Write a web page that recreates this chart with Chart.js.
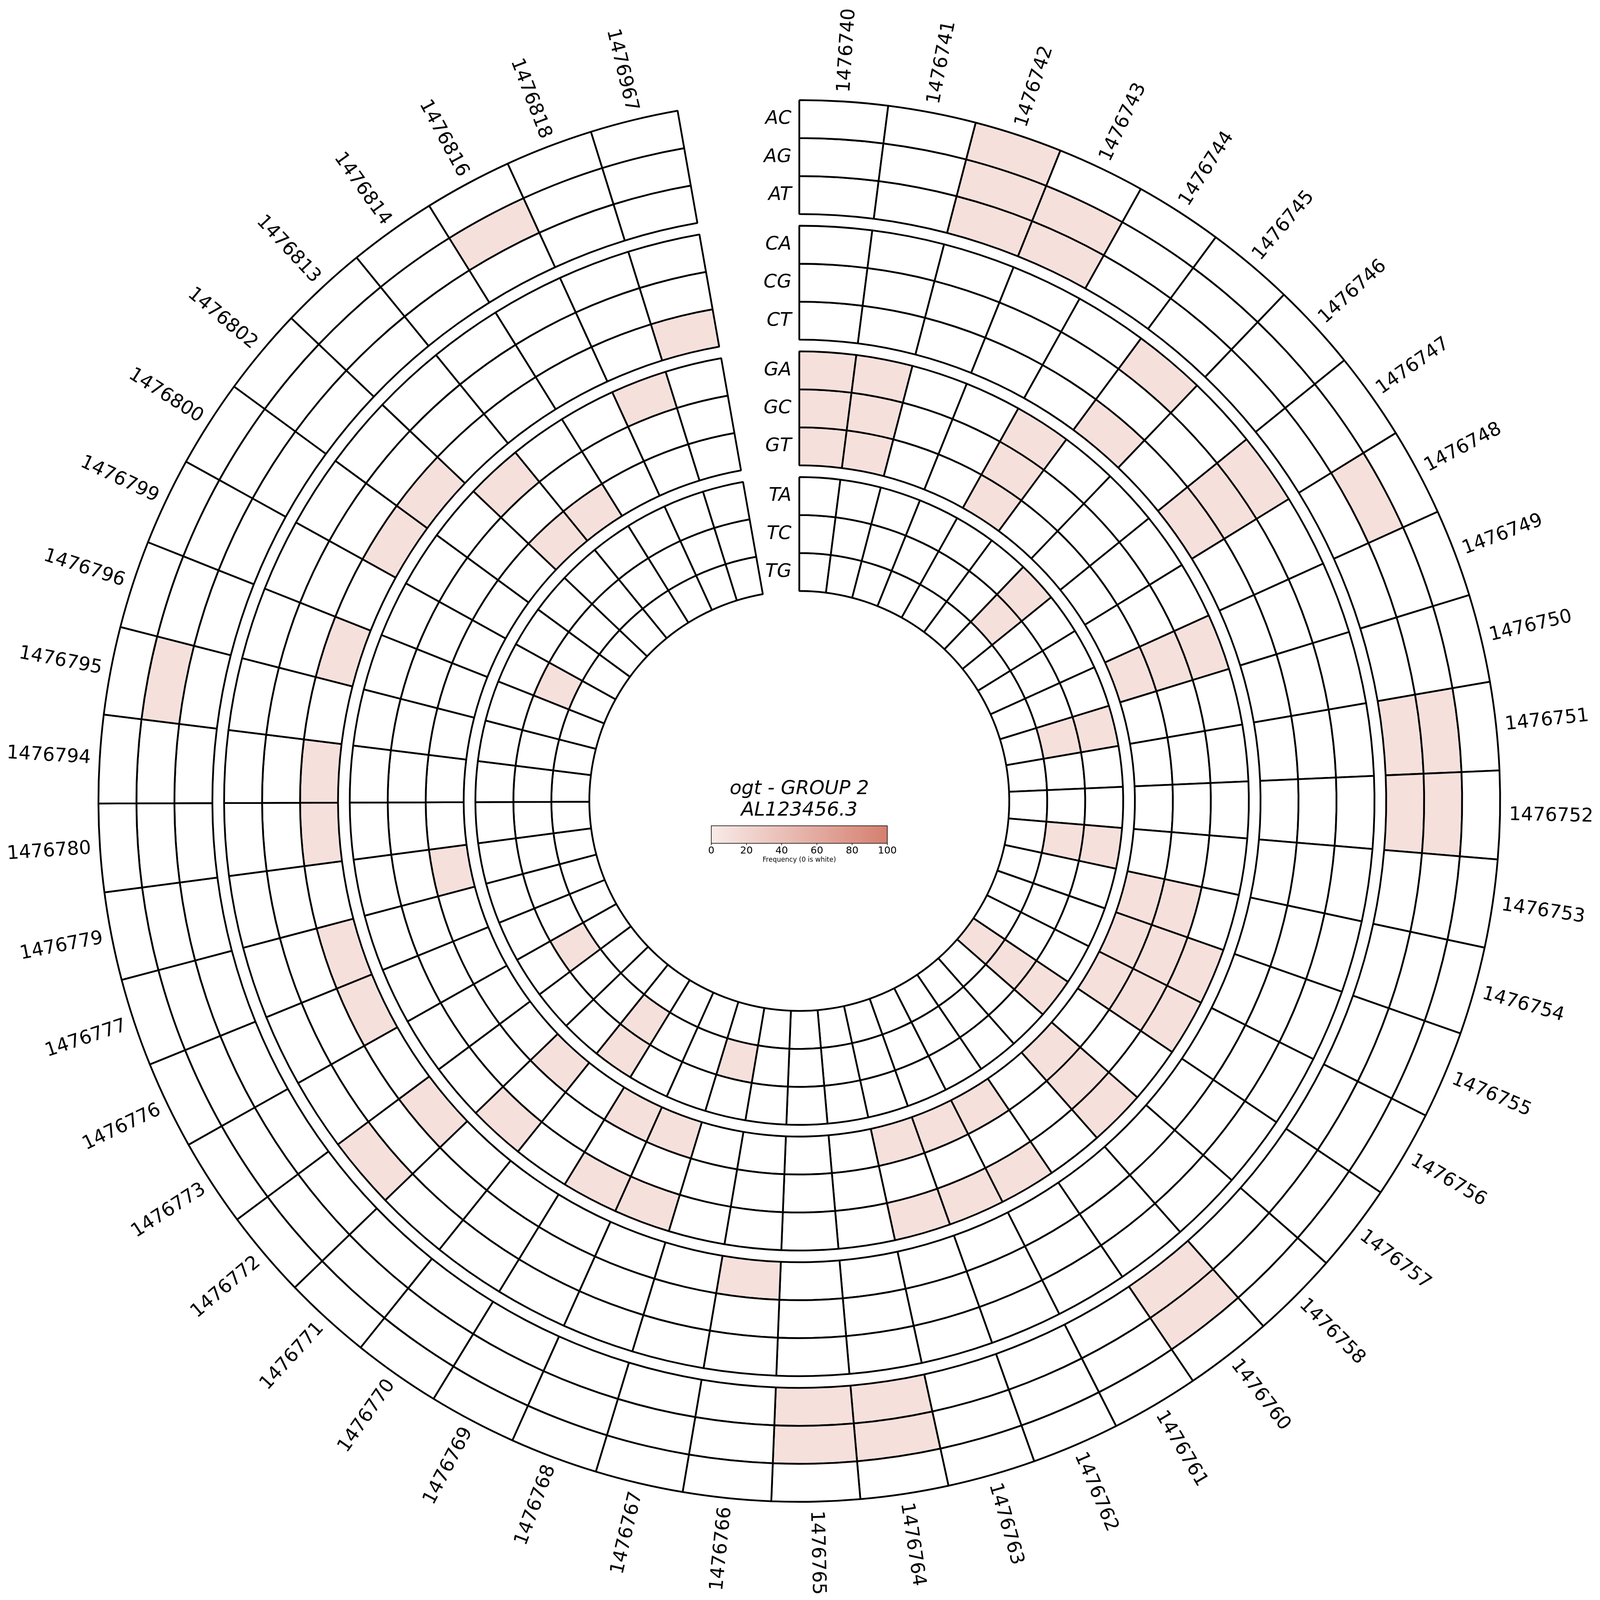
<!DOCTYPE html>
<html>
<head>
<meta charset="utf-8">
<script src="https://cdn.jsdelivr.net/npm/chart.js@4.4.1/dist/chart.umd.min.js"></script>
<style>
html,body{margin:0;padding:0;background:#ffffff;overflow:hidden;}
canvas{display:block;}
</style>
</head>
<body>
<canvas id="c"></canvas>
<script>
// ---- categories (genomic positions, clockwise from top) ----
const positions = ['1476740','1476741','1476742','1476743','1476744','1476745','1476746','1476747','1476748','1476749',
  '1476750','1476751','1476752','1476753','1476754','1476755','1476756','1476757','1476758','1476760',
  '1476761','1476762','1476763','1476764','1476765','1476766','1476767','1476768','1476769','1476770',
  '1476771','1476772','1476773','1476776','1476777','1476779','1476780','1476794','1476795','1476796',
  '1476799','1476800','1476802','1476813','1476814','1476816','1476818','1476967'];

// ---- ring names (outer -> inner) ----
const ringNames = ['AC','AG','AT','CA','CG','CT','GA','GC','GT','TA','TC','TG'];

// ---- frequency values per ring (0 = white) ----
const AC = [0,0,10,0,0,0,0,0,0,0, 0,0,0,0,0,0,0,0,0,0, 0,0,0,0,0,0,0,0,0,0, 0,0,0,0,0,0,0,0,0,0, 0,0,0,0,0,0,0,0];
const AG = [0,0,10,10,0,0,0,0,10,0, 0,10,10,0,0,0,0,0,0,10, 0,0,0,10,10,0,0,0,0,0, 0,0,0,0,0,0,0,0,10,0, 0,0,0,0,0,10,0,0];
const AT = [0,0,10,10,0,0,0,0,0,0, 0,10,10,0,0,0,0,0,0,10, 0,0,0,10,10,0,0,0,0,0, 0,0,0,0,0,0,0,0,0,0, 0,0,0,0,0,0,0,0];
const CA = [0,0,0,0,0,10,0,10,0,0, 0,0,0,0,0,0,0,0,0,0, 0,0,0,0,0,0,0,0,0,0, 0,10,0,0,0,0,0,0,0,0, 0,0,0,0,0,0,0,0];
const CG = [0,0,0,0,0,0,0,10,0,0, 0,0,0,0,0,0,0,0,0,0, 0,0,0,0,0,0,0,0,0,0, 0,0,0,0,0,0,0,0,0,0, 0,0,0,0,0,0,0,0];
const CT = [0,0,0,0,0,10,0,10,0,0, 0,0,0,0,0,0,0,0,0,0, 0,0,0,0,0,10,0,0,0,0, 0,10,0,10,10,0,10,10,0,10, 0,10,10,0,0,0,0,10];
const GA = [10,10,0,0,10,0,0,0,0,10, 0,0,0,0,0,10,10,0,10,0, 10,10,10,0,0,0,0,10,10,0, 10,0,0,0,0,0,0,0,0,0, 0,0,0,10,0,0,10,0];
const GC = [10,10,0,0,10,0,0,0,0,10, 0,0,0,0,10,10,10,0,10,0, 0,0,0,0,0,0,0,0,0,0, 0,0,0,0,0,0,0,0,0,0, 0,0,0,0,0,0,0,0];
const GT = [10,10,0,0,10,0,0,0,0,10, 0,0,0,0,10,10,10,0,10,0, 10,10,10,0,0,0,0,10,10,0, 10,0,0,0,0,10,0,0,0,0, 0,0,0,10,10,0,0,0];
const TA = [0,0,0,0,0,0,10,0,0,0, 10,0,0,10,0,0,0,10,0,0, 0,0,0,0,0,0,0,0,0,10, 0,0,0,0,0,0,0,0,0,0, 0,0,0,0,0,0,0,0];
const TC = [0,0,0,0,0,0,10,0,0,0, 10,0,0,10,0,0,0,10,0,0, 0,0,0,0,0,0,10,0,0,10, 0,0,10,0,0,0,0,0,0,0, 10,0,0,0,0,0,0,0];
const TG = [0,0,0,0,0,0,0,0,0,0, 0,0,0,0,0,0,0,10,0,0, 0,0,0,0,0,0,0,0,0,0, 0,0,0,0,0,0,0,0,0,0, 0,0,0,0,0,0,0,0];

// ---- colour bar ----
const cbarTicks = [0, 20, 40, 60, 80, 100];
const cbarLabel = 'Frequency (0 is white)';
const titleLines = ['ogt - GROUP 2', 'AL123456.3'];

const ringValues = [AC, AG, AT, CA, CG, CT, GA, GC, GT, TA, TC, TG];
const cLow = [248, 235, 232];
const cHigh = [213, 127, 111];

function colorFor(v) {
  if (!v) return '#ffffff';
  const t = Math.max(0, Math.min(100, v)) / 100;
  const c = cLow.map((a, i) => Math.round(a + (cHigh[i] - a) * t));
  return 'rgb(' + c.join(',') + ')';
}

// scale: design is in 6762-px units
const SIDE = Math.min(window.innerWidth, window.innerHeight);
const S = SIDE / 6762;
const canvas = document.getElementById('c');
canvas.width = SIDE;
canvas.height = SIDE;
canvas.style.width = SIDE + 'px';
canvas.style.height = SIDE + 'px';

const ringWeight = 1;
const gapWeight = 49.5 / 160.5;

const datasets = [];
const ringDatasetIndex = [];
ringValues.forEach((vals, i) => {
  if (i > 0 && i % 3 === 0) {
    datasets.push({
      label: 'gap' + i,
      data: positions.map(() => 1),
      backgroundColor: 'rgba(0,0,0,0)',
      borderWidth: 0,
      weight: gapWeight
    });
  }
  ringDatasetIndex.push(datasets.length);
  datasets.push({
    label: ringNames[i],
    data: positions.map(() => 1),
    backgroundColor: vals.map(colorFor),
    borderColor: '#000000',
    borderWidth: 7.5 * S,
    borderJoinStyle: 'bevel',
    weight: ringWeight
  });
});

function font(px, italic) {
  return (italic ? 'italic ' : '') + (px * S) + 'px "DejaVu Sans"';
}

const overlay = {
  id: 'overlay',
  afterDatasetsDraw(chart) {
    const ctx = chart.ctx;
    const meta0 = chart.getDatasetMeta(ringDatasetIndex[0]);
    const a0 = meta0.data[0];
    const cx = a0.x, cy = a0.y;
    const outerR = a0.outerRadius;
    ctx.save();
    ctx.fillStyle = '#000';

    // position labels
    ctx.font = font(80);
    ctx.textBaseline = 'middle';
    meta0.data.forEach((arc, k) => {
      const mid = (arc.startAngle + arc.endAngle) / 2;
      const r = outerR + 38 * S;
      const x = cx + r * Math.cos(mid), y = cy + r * Math.sin(mid);
      ctx.save();
      ctx.translate(x, y);
      if (Math.cos(mid) >= 0) { ctx.rotate(mid); ctx.textAlign = 'left'; }
      else { ctx.rotate(mid + Math.PI); ctx.textAlign = 'right'; }
      ctx.fillText(positions[k], 0, 0);
      ctx.restore();
    });

    // ring labels
    ctx.font = font(80, true);
    ctx.textAlign = 'right';
    ctx.textBaseline = 'middle';
    ringDatasetIndex.forEach((di, i) => {
      const arc = chart.getDatasetMeta(di).data[0];
      const rm = (arc.innerRadius + arc.outerRadius) / 2;
      ctx.fillText(ringNames[i], cx - 33 * S, cy - rm);
    });

    // centre title
    ctx.font = font(82, true);
    ctx.textAlign = 'center';
    ctx.textBaseline = 'alphabetic';
    ctx.fillText(titleLines[0], cx, cy - 28 * S);
    ctx.fillText(titleLines[1], cx, cy + 62 * S);

    // colour bar
    const bw = 744 * S, bh = 74 * S;
    const bx = cx - bw / 2, by = cy + 105 * S;
    const grad = ctx.createLinearGradient(bx, 0, bx + bw, 0);
    grad.addColorStop(0, 'rgb(' + cLow.join(',') + ')');
    grad.addColorStop(1, 'rgb(' + cHigh.join(',') + ')');
    ctx.fillStyle = grad;
    ctx.fillRect(bx, by, bw, bh);
    ctx.strokeStyle = '#000';
    ctx.lineWidth = 2.5 * S;
    ctx.strokeRect(bx, by, bw, bh);
    ctx.fillStyle = '#000';
    ctx.font = font(42);
    ctx.textAlign = 'center';
    ctx.textBaseline = 'alphabetic';
    cbarTicks.forEach(t => {
      const tx = bx + bw * t / 100;
      ctx.beginPath();
      ctx.moveTo(tx, by + bh);
      ctx.lineTo(tx, by + bh + 8 * S);
      ctx.stroke();
      ctx.fillText(String(t), tx, cy + 222 * S);
    });
    ctx.font = font(28);
    ctx.fillText(cbarLabel, cx, cy + 257 * S);
    ctx.restore();
  }
};

new Chart(canvas, {
  type: 'doughnut',
  data: { labels: positions, datasets: datasets },
  options: {
    responsive: false,
    animation: false,
    events: [],
    rotation: 0,
    circumference: 350,
    radius: 2962 * S,
    cutout: '29.96%',
    layout: { padding: { left: 400 * S, right: 406 * S, top: 404 * S, bottom: 396 * S } },
    plugins: { legend: { display: false }, tooltip: { enabled: false }, title: { display: false } }
  },
  plugins: [overlay]
});
</script>
</body>
</html>
